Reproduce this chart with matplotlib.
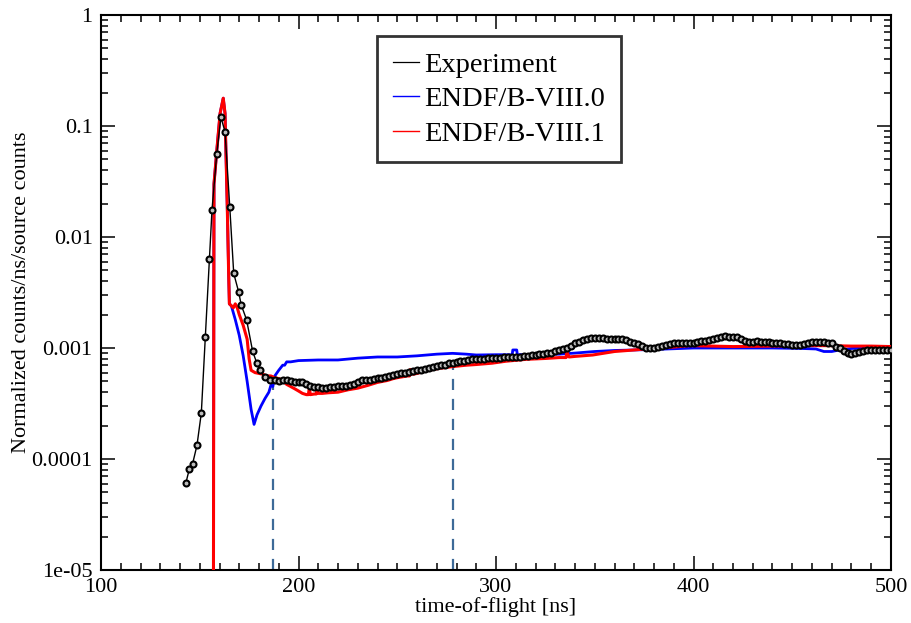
import numpy as np
import matplotlib
matplotlib.use("Agg")
import matplotlib.pyplot as plt
from matplotlib.lines import Line2D
from matplotlib.ticker import FixedLocator, FixedFormatter, LogLocator, MultipleLocator, NullFormatter

plt.rcParams['font.family'] = ['Liberation Serif', 'DejaVu Serif']

# ---------------- data ----------------
exp_t = [143.0, 144.7, 146.4, 148.6, 150.8, 152.8, 154.9, 156.2, 158.6, 160.7,
         162.8, 165.2, 167.2, 169.7, 171.0, 173.7, 176.8, 178.8, 180.3, 182.9,
         185.6] + list(np.arange(188, 501, 2.0))
exp_v = [6.1e-5, 8.1e-5, 9.1e-5, 1.33e-4, 2.6e-4, 1.25e-3, 6.3e-3, 1.75e-2, 5.6e-2, 0.12,
         8.9e-2, 1.86e-2, 4.7e-3, 3.2e-3, 2.44e-3, 1.8e-3, 9.3e-4, 7.4e-4, 6.3e-4, 5.5e-4,
         5.2e-4,
         # 188 .. 500 every 2 ns
         5.1e-4, 5.0e-4, 5.1e-4, 5.15e-4, 5.0e-4, 4.9e-4, 4.9e-4, 4.9e-4, 4.7e-4, 4.5e-4,
         4.45e-4, 4.45e-4, 4.4e-4, 4.4e-4, 4.45e-4, 4.45e-4, 4.5e-4, 4.5e-4, 4.55e-4, 4.6e-4,
         4.7e-4, 4.9e-4, 5.1e-4, 5.1e-4, 5.2e-4, 5.3e-4, 5.35e-4, 5.4e-4, 5.5e-4, 5.6e-4,
         5.7e-4, 5.8e-4, 5.9e-4, 6.0e-4, 6.1e-4, 6.2e-4, 6.3e-4, 6.4e-4, 6.5e-4, 6.6e-4,
         6.7e-4, 6.9e-4, 7.0e-4, 7.1e-4, 7.3e-4, 7.4e-4, 7.5e-4, 7.6e-4, 7.7e-4, 7.8e-4,
         7.9e-4, 7.9e-4, 8.0e-4, 8.0e-4, 8.1e-4, 8.2e-4, 8.2e-4, 8.2e-4, 8.3e-4, 8.3e-4,
         8.3e-4, 8.3e-4, 8.3e-4, 8.4e-4, 8.5e-4, 8.6e-4, 8.7e-4, 8.8e-4, 8.9e-4, 8.95e-4,
         9.1e-4, 9.3e-4, 9.5e-4, 9.7e-4, 9.9e-4, 1.04e-3, 1.1e-3, 1.14e-3, 1.17e-3, 1.2e-3,
         1.22e-3, 1.24e-3, 1.24e-3, 1.23e-3, 1.21e-3, 1.2e-3, 1.2e-3, 1.21e-3, 1.2e-3, 1.17e-3,
         1.13e-3, 1.11e-3, 1.08e-3, 1.04e-3, 1.0e-3, 9.9e-4, 1.0e-3, 1.02e-3, 1.04e-3, 1.07e-3,
         1.09e-3, 1.1e-3, 1.1e-3, 1.1e-3, 1.1e-3, 1.1e-3, 1.12e-3, 1.14e-3, 1.15e-3, 1.16e-3,
         1.18e-3, 1.21e-3, 1.24e-3, 1.26e-3, 1.27e-3, 1.26e-3, 1.26e-3, 1.25e-3, 1.2e-3, 1.15e-3,
         1.14e-3, 1.14e-3, 1.15e-3, 1.14e-3, 1.14e-3, 1.13e-3, 1.12e-3, 1.1e-3, 1.1e-3, 1.09e-3,
         1.08e-3, 1.07e-3, 1.06e-3, 1.07e-3, 1.08e-3, 1.1e-3, 1.13e-3, 1.14e-3, 1.14e-3, 1.13e-3,
         1.12e-3, 1.1e-3, 1.03e-3, 9.9e-4, 9.4e-4, 9.0e-4, 8.9e-4, 8.95e-4, 9.2e-4, 9.3e-4,
         9.5e-4, 9.6e-4, 9.6e-4, 9.5e-4, 9.5e-4, 9.5e-4, 9.5e-4]

b80_t = [156.3, 156.8, 157.2, 158.8, 160.3, 161.9, 162.8, 164.0, 164.6, 165.0,
         166, 168, 170, 172, 174, 176, 177.5, 179, 181, 183,
         185, 186, 187, 188, 190, 192, 193, 194, 196, 200,
         210, 220, 230, 240, 250, 260, 270, 278, 285, 290,
         300, 308.2, 308.5, 310.5, 310.8, 320, 332, 340, 350, 360,
         370, 380, 400, 420, 440, 455, 462, 466, 470, 474,
         480, 490, 500]
b80_v = [1e-7, 1e-7, 3.0e-2, 6.5e-2, 0.13, 0.178, 0.13, 1.65e-2, 5.0e-3, 2.5e-3,
         2.4e-3, 1.8e-3, 1.3e-3, 8.5e-4, 5.0e-4, 2.8e-4, 2.05e-4, 2.5e-4, 3.0e-4, 3.5e-4,
         4.0e-4, 4.6e-4, 4.5e-4, 5.6e-4, 6.3e-4, 7.0e-4, 7.0e-4, 7.5e-4, 7.5e-4, 7.7e-4,
         7.8e-4, 7.8e-4, 8.1e-4, 8.3e-4, 8.3e-4, 8.5e-4, 8.8e-4, 8.95e-4, 8.8e-4, 8.65e-4,
         8.7e-4, 8.7e-4, 9.6e-4, 9.6e-4, 8.7e-4, 8.75e-4, 8.8e-4, 9.0e-4, 9.3e-4, 9.5e-4,
         9.6e-4, 9.7e-4, 1.0e-3, 1.0e-3, 1.0e-3, 9.9e-4, 9.8e-4, 9.3e-4, 9.3e-4, 9.6e-4,
         9.9e-4, 1.0e-3, 1.0e-3]

b81_t = [156.3, 156.8, 157.2, 158.8, 160.3, 161.9, 162.8, 164.0, 164.6, 165.0,
         166, 167, 168, 169, 170, 172, 174, 175, 176, 178,
         180, 182, 184, 186, 188, 190, 192, 194, 196, 198,
         200, 202, 204, 205, 205.5, 206, 208, 209, 209.5, 210,
         212, 215, 220, 225, 230, 235, 240, 245, 248, 250,
         255, 256.2, 256.6, 258, 260, 265, 270, 278, 285, 290,
         298, 305, 315, 325, 332, 335.5, 335.8, 337, 340, 349,
         355, 360, 370, 378, 390, 398, 410, 420, 440, 458,
         470, 480, 490, 500]
b81_v = [1e-7, 1e-7, 3.0e-2, 6.5e-2, 0.13, 0.178, 0.13, 1.65e-2, 5.0e-3, 2.5e-3,
         2.4e-3, 2.3e-3, 2.5e-3, 2.3e-3, 2.0e-3, 1.6e-3, 1.2e-3, 8.0e-4, 6.3e-4, 6.0e-4,
         5.9e-4, 5.8e-4, 5.6e-4, 5.6e-4, 5.4e-4, 5.3e-4, 5.1e-4, 4.7e-4, 4.5e-4, 4.3e-4,
         4.1e-4, 3.9e-4, 3.8e-4, 3.8e-4, 4.4e-4, 3.8e-4, 3.85e-4, 3.85e-4, 4.4e-4, 3.9e-4,
         3.9e-4, 3.95e-4, 4.0e-4, 4.2e-4, 4.35e-4, 4.6e-4, 4.9e-4, 5.1e-4, 5.3e-4, 5.4e-4,
         5.6e-4, 5.6e-4, 6.4e-4, 5.8e-4, 5.9e-4, 6.25e-4, 6.5e-4, 6.8e-4, 7.0e-4, 7.1e-4,
         7.3e-4, 7.6e-4, 7.9e-4, 8.05e-4, 8.2e-4, 8.2e-4, 9.3e-4, 8.3e-4, 8.4e-4, 8.65e-4,
         9.0e-4, 9.3e-4, 9.6e-4, 9.9e-4, 1.02e-3, 1.05e-3, 1.04e-3, 1.03e-3, 1.04e-3, 1.05e-3,
         1.05e-3, 1.04e-3, 1.04e-3, 1.03e-3]

# vertical dashed markers: (time, top value)
mark_t = [187.1, 278.2]
mark_top = [5.2e-4, 6.9e-4]

ytick_vals = [1e-5, 1e-4, 1e-3, 1e-2, 1e-1, 1]
ytick_labels = ['1e-05', '0.0001', '0.001', '0.01', '0.1', '1']
xtick_vals = [100, 200, 300, 400, 500]

labels = ['Experiment', 'ENDF/B-VIII.0', 'ENDF/B-VIII.1']

# ---------------- plot ----------------
fig = plt.figure(figsize=(9.11, 6.23), dpi=100)
ax = fig.add_axes([101/911, 1 - 570/623, 790/911, 555/623])

for t, top in zip(mark_t, mark_top):
    ax.plot([t, t], [1e-5, top], color='#3d6a98', lw=1.6, dashes=(5, 4), zorder=1)

ax.plot(b80_t, b80_v, color='#0000ff', lw=2.0, zorder=2)
ax.plot(b81_t, b81_v, color='#ff0000', lw=2.2, zorder=3)
ax.plot(exp_t, exp_v, color='black', lw=1.0, marker='o', ms=4.3,
        mfc='#bbbbbb', mec='black', mew=1.5, zorder=4)

ax.set_yscale('log')
ax.set_xlim(100, 500)
ax.set_ylim(1e-5, 1)

ax.yaxis.set_major_locator(FixedLocator(ytick_vals))
ax.yaxis.set_major_formatter(FixedFormatter(ytick_labels))
ax.yaxis.set_minor_locator(LogLocator(base=10, subs=np.arange(2, 10)))
ax.yaxis.set_minor_formatter(NullFormatter())
ax.xaxis.set_major_locator(FixedLocator(xtick_vals))
ax.xaxis.set_minor_locator(MultipleLocator(10))

ax.tick_params(which='both', direction='in', top=True, right=True,
               labelsize=16, width=1.1, pad=6)
ax.tick_params(which='major', length=10)
ax.tick_params(which='minor', length=5)
for s in ax.spines.values():
    s.set_linewidth(1.5)

ax.set_xlabel('time-of-flight [ns]', fontsize=16, labelpad=0)
ax.set_ylabel('Normalized counts/ns/source counts', fontsize=16, labelpad=0)

handles = [Line2D([], [], color='black', lw=0.9),
           Line2D([], [], color='#0000ff', lw=1.0),
           Line2D([], [], color='#ff0000', lw=1.0)]
leg = ax.legend(handles, labels, loc='upper center', bbox_to_anchor=(0.504, 0.962),
                fontsize=20.5, frameon=True, fancybox=False, handlelength=0.9,
                handletextpad=0.2, borderpad=0.55, labelspacing=0.3,
                borderaxespad=0)
leg.get_frame().set_edgecolor('black')
leg.get_frame().set_linewidth(2.0)

fig.savefig('out.png', dpi=100)
